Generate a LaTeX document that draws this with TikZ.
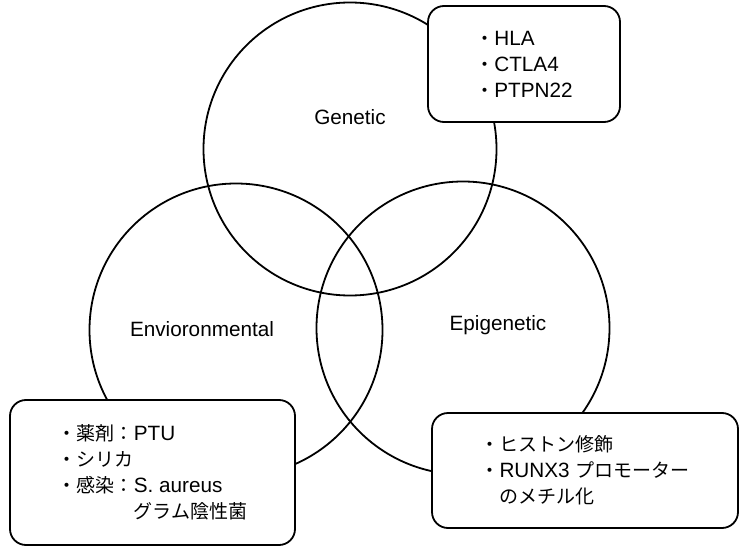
\documentclass[tikz,border=0pt]{standalone}
\usepackage{fontspec}
\setmainfont{Liberation Sans}[Scale=1.09]
\newfontfamily\jpfont{Noto Sans CJK JP}
\usetikzlibrary{positioning}
\tikzset{every path/.append style={line width=1.8pt}}
\tikzset{
	venn/.style={circle,draw,inner sep=0pt,minimum size=293pt},
	setlabel/.style={font=\fontsize{19}{23}\selectfont},
	infobox/.style={draw,fill=white,rounded corners=16pt,align=left,inner sep=0pt,
		font=\fontsize{19}{26}\selectfont}
}
\newcommand{\jpText}[1]{{\jpfont #1}}
\newcommand{\tikzVenn}[2]{\node (#2) at #1 [venn]{};}

\begin{document}
\begin{tikzpicture}[x=1pt,y=-1pt]
	\useasboundingbox (0,0) rectangle (741,548);
	
	\tikzVenn{(350,149)}{genC}
	\tikzVenn{(236,330)}{envC}
	\tikzVenn{(463,328)}{epiC}
	
	\node[setlabel] (genL) at (350,117) {Genetic};
	\node[setlabel] (envL) at (202,329) {Envioronmental};
	\node[setlabel] (epiL) at (498,325) {Epigenetic};
	
	\node[infobox,minimum width=192pt,minimum height=116pt] (genBox) at (524,64)
		{\jpText{・}HLA\\ \jpText{・}CTLA4\\ \jpText{・}PTPN22};
	\node[infobox,minimum width=285pt,minimum height=145pt] (envBox) at (152.5,472.5)
		{\jpText{・薬剤：}PTU\\ \jpText{・シリカ}\\ \jpText{・感染：}S. aureus\\ \jpText{\phantom{・感染：}グラム陰性菌}};
	\node[infobox,minimum width=306pt,minimum height=115pt] (epiBox) at (585,470.5)
		{\jpText{・ヒストン修飾}\\ \jpText{・}RUNX3 \jpText{プロモーター}\\ \jpText{\phantom{・}のメチル化}};
\end{tikzpicture}
\end{document}
